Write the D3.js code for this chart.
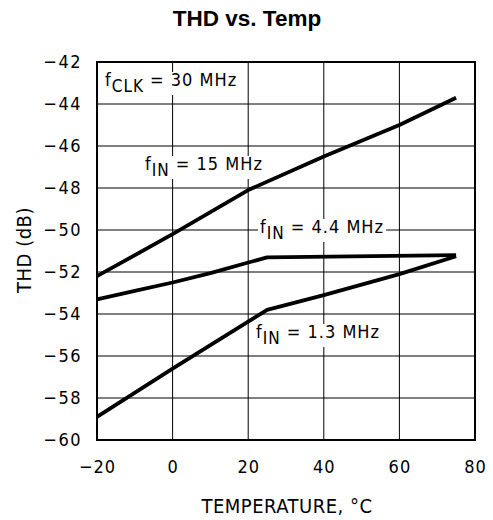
<!DOCTYPE html>
<html>
<head>
<meta charset="utf-8">
<script src="https://cdn.jsdelivr.net/npm/d3@7"></script>
<style>
  body { margin: 0; background: #fff; }
  svg { display: block; }
  .tick-label { font-family: "DejaVu Sans Condensed", "DejaVu Sans", sans-serif; font-size: 18px; fill: #000; }
  .note { font-family: "DejaVu Sans Condensed", "DejaVu Sans", sans-serif; font-size: 18px; fill: #000; }
  .axis-title { font-family: "DejaVu Sans Condensed", "DejaVu Sans", sans-serif; font-size: 20px; fill: #000; }
</style>
</head>
<body>
<svg id="chart" width="493" height="520"></svg>
<script>
// temperature ticks and THD ticks
const xTicks = [-20, 0, 20, 40, 60, 80];
const yTicks = [-42, -44, -46, -48, -50, -52, -54, -56, -58, -60];

// fIN = 15 MHz
const temp15 = [-20, 0, 20, 40, 60, 75];
const thd15 = [-52.2, -50.2, -48.1, -46.5, -45.0, -43.7];

// fIN = 4.4 MHz
const temp44 = [-20, -10, 0, 10, 25, 75];
const thd44 = [-53.3, -52.9, -52.5, -52.05, -51.3, -51.2];

// fIN = 1.3 MHz
const temp13 = [-20, 0, 25, 40, 60, 75];
const thd13 = [-58.9, -56.6, -53.8, -53.1, -52.1, -51.25];

const svg = d3.select("#chart");
const plotLeft = 97, plotRight = 475, plotTop = 62, plotBottom = 440;

const x = d3.scaleLinear().domain([-20, 80]).range([plotLeft, plotRight]);
const y = d3.scaleLinear().domain([-60, -42]).range([plotBottom, plotTop]);

// grid
const grid = svg.append("g");
grid.selectAll("line.v")
  .data(xTicks.slice(1, -1))
  .join("line")
  .attr("class", "v")
  .attr("x1", d => x(d)).attr("x2", d => x(d))
  .attr("y1", plotTop).attr("y2", plotBottom)
  .attr("stroke", "#000").attr("stroke-width", 1);
grid.selectAll("line.h")
  .data(yTicks.slice(1, -1))
  .join("line")
  .attr("class", "h")
  .attr("x1", plotLeft).attr("x2", plotRight)
  .attr("y1", d => y(d)).attr("y2", d => y(d))
  .attr("stroke", "#000").attr("stroke-width", 1);

// curves
const line = d3.line().x(d => x(d[0])).y(d => y(d[1]));
const series = [
  d3.zip(temp15, thd15),
  d3.zip(temp44, thd44),
  d3.zip(temp13, thd13)
];
svg.append("g").selectAll("path")
  .data(series)
  .join("path")
  .attr("d", line)
  .attr("fill", "none")
  .attr("stroke", "#000")
  .attr("stroke-width", 3.8)
  .attr("stroke-linejoin", "round");

// frame
svg.append("rect")
  .attr("x", plotLeft).attr("y", plotTop)
  .attr("width", plotRight - plotLeft).attr("height", plotBottom - plotTop)
  .attr("fill", "none").attr("stroke", "#000").attr("stroke-width", 2);

// axes
const xAxis = d3.axisBottom(x).tickValues(xTicks).tickSize(0).tickPadding(20)
  .tickFormat(d => (d < 0 ? "\u2212" : "") + Math.abs(d));
const gx = svg.append("g").attr("transform", `translate(0,${plotBottom})`).call(xAxis);
gx.select(".domain").remove();
gx.attr("font-size", null).attr("font-family", null);
gx.selectAll("text").attr("class", "tick-label").attr("letter-spacing", 1);

const yAxis = d3.axisLeft(y).tickValues(yTicks).tickSize(0).tickPadding(15)
  .tickFormat(d => "\u2212" + Math.abs(d));
const gy = svg.append("g").attr("transform", `translate(${plotLeft},0)`).call(yAxis);
gy.select(".domain").remove();
gy.attr("font-size", null).attr("font-family", null);
gy.selectAll("text").attr("class", "tick-label").attr("letter-spacing", 1.5);

// titles
svg.append("text")
  .attr("x", 247).attr("y", 26)
  .attr("text-anchor", "middle")
  .attr("font-family", "Liberation Sans, Arial, sans-serif")
  .attr("font-weight", "bold").attr("font-size", 22.5)
  .text("THD vs. Temp");

svg.append("text")
  .attr("class", "axis-title")
  .attr("x", 287).attr("y", 513)
  .attr("text-anchor", "middle")
  .attr("letter-spacing", 0.5)
  .text("TEMPERATURE, \u00b0C");

svg.append("text")
  .attr("class", "axis-title")
  .attr("transform", "translate(31,250) rotate(-90)")
  .attr("text-anchor", "middle")
  .attr("letter-spacing", 0.5)
  .text("THD (dB)");

// annotations with subscript, white background
const notes = [
  { x: 105, y: 86, sub: "CLK", rest: " = 30 MHz" },
  { x: 145, y: 170, sub: "IN", rest: " = 15 MHz" },
  { x: 260, y: 233, sub: "IN", rest: " = 4.4 MHz" },
  { x: 256, y: 338, sub: "IN", rest: " = 1.3 MHz" }
];
notes.forEach(n => {
  const g = svg.append("g");
  const bg = g.append("rect").attr("fill", "#fff");
  const t = g.append("text").attr("class", "note").attr("x", n.x).attr("y", n.y)
    .attr("letter-spacing", 1);
  t.append("tspan").text("f");
  t.append("tspan").attr("dy", 6).attr("font-size", 17).text(n.sub);
  t.append("tspan").attr("dy", -6).text(n.rest);
  const b = t.node().getBBox();
  bg.attr("x", b.x - 2).attr("y", b.y + 3).attr("width", b.width + 4).attr("height", b.height - 4);
});
</script>
</body>
</html>
